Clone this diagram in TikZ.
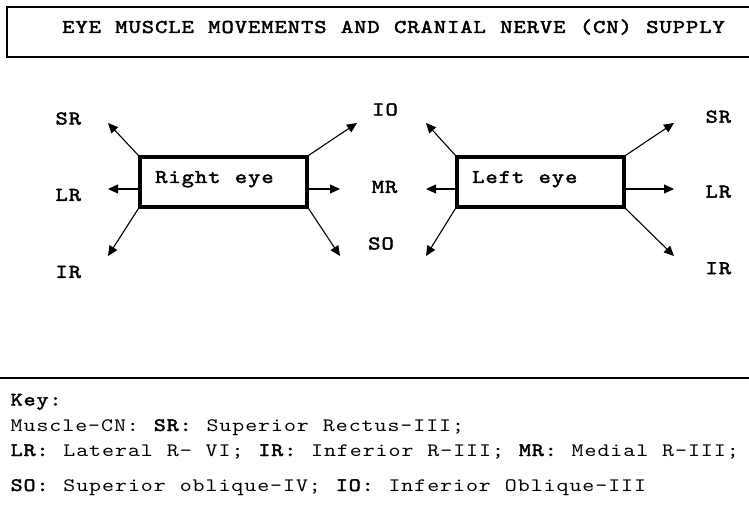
\documentclass[tikz,border=0pt]{standalone}
\usepackage{fontspec}
\newfontfamily\cour{lmmono10-regular.otf}[FakeStretch=1.2, LetterSpace=5, WordSpace=1.08, BoldFont=lmmono10-regular.otf, BoldFeatures={FakeBold=2.2}]
\usetikzlibrary{arrows.meta,calc}
\begin{document}
\begin{tikzpicture}[x=1pt,y=-1pt,
  txt/.style={font=\cour\fontsize{19}{22}\selectfont, inner sep=0pt},
  lbl/.style={inner sep=0pt, font=\cour\bfseries\fontsize{19.5}{22}\selectfont},
  eyebox/.style={draw, line width=3.2pt, minimum width=167pt, minimum height=50pt, inner sep=0pt},
  arr/.style={line width=1.1pt, -{Triangle[length=10pt,width=9pt]}},
]
\useasboundingbox (0,0) rectangle (749,526);
\clip (0,0) rectangle (749,526);
\fill[white] (0,0) rectangle (749,526);

% title
\draw[line width=1.3pt] (7,7) rectangle (770,57);
\node[lbl, anchor=base west] (title) at (62,33) {EYE MUSCLE MOVEMENTS AND CRANIAL NERVE (CN) SUPPLY};

% right eye
\node[eyebox] (reye) at (223.5,182) {};
\node[lbl, anchor=base west] (reyet) at (155,183) {Right eye};
\coordinate (rsrt) at (108,123);
\coordinate (rlrt) at (108,189);
\coordinate (rirt) at (108,256);
\coordinate (riot) at (357,123);
\coordinate (rmrt) at (340,189);
\coordinate (rsot) at (340,256);
\draw[arr] (reye.north west) -- (rsrt);
\draw[arr] (reye.west |- rlrt) -- (rlrt);
\draw[arr] (reye.south west) -- (rirt);
\draw[arr] (reye.north east) -- (riot);
\draw[arr] (reye.east |- rmrt) -- (rmrt);
\draw[arr] (reye.south east) -- (rsot);
\node[lbl] (rsr) at (68.3,118.5) {SR};
\node[lbl] (rlr) at (68.3,195) {LR};
\node[lbl] (rir) at (68.3,272) {IR};
\node[lbl] (rio) at (385,109.5) {IO};
\node[lbl] (rmr) at (384.5,187) {MR};
\node[lbl] (rso) at (381,243.5) {SO};

% left eye
\node[eyebox] (leye) at (540.5,182) {};
\node[lbl, anchor=base west] (leyet) at (472,183) {Left eye};
\coordinate (lult) at (426,123);
\coordinate (llt) at (426,189);
\coordinate (lllt) at (426,256);
\coordinate (lurt) at (674,123);
\coordinate (lrt) at (674,189);
\coordinate (llrt) at (674,256);
\draw[arr] (leye.north west) -- (lult);
\draw[arr] (leye.west |- llt) -- (llt);
\draw[arr] (leye.south west) -- (lllt);
\draw[arr] (leye.north east) -- (lurt);
\draw[arr] (leye.east |- lrt) -- (lrt);
\draw[arr] (leye.south east) -- (llrt);
\node[lbl] (lsr) at (718.3,116.7) {SR};
\node[lbl] (llr) at (718.3,191.7) {LR};
\node[lbl] (lir) at (718.3,268.3) {IR};

% key
\coordinate (kl) at (0,378);
\coordinate (kr) at (749,378);
\draw[line width=1.3pt] (kl) -- (kr);
\node[txt, anchor=base west] (k1) at (10.5,405.5) {\textbf{Key:}};
\node[txt, anchor=base west] (k2) at (10.5,431) {Muscle—CN: \textbf{SR:} Superior Rectus-III;};
\node[txt, anchor=base west] (k3) at (10.5,456) {\textbf{LR:} Lateral R- VI; \textbf{IR:} Inferior R-III; \textbf{MR:} Medial R-III;};
\node[txt, anchor=base west] (k4) at (10.5,491) {\textbf{SO:} Superior oblique-IV; \textbf{IO:} Inferior Oblique-III};
\end{tikzpicture}
\end{document}
